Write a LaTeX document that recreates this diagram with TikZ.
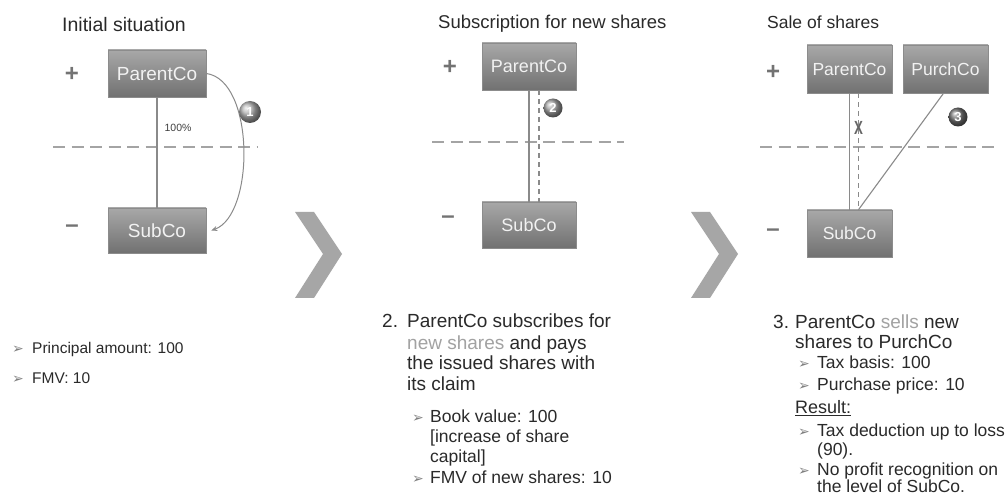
\documentclass[tikz,border=0pt]{standalone}
\usepackage{fontspec}
\setmainfont{Liberation Sans}
\newfontfamily\dvfont{DejaVu Sans}
\usetikzlibrary{arrows.meta,shadings}
\definecolor{txt}{HTML}{2A2A2A}
\definecolor{hl}{HTML}{A2A2A2}
\definecolor{boxtop}{HTML}{A8A8A8}
\definecolor{boxbot}{HTML}{717171}
\definecolor{boxtxt}{HTML}{F2F2F2}
\definecolor{linec}{HTML}{8A8A8A}
\definecolor{dashc}{HTML}{A4A4A4}
\definecolor{chev}{HTML}{A6A6A6}
\definecolor{signc}{HTML}{737373}
\newcommand{\fsz}[1]{\fontsize{#1}{#1}\selectfont}
\newcommand{\bul}{{\dvfont\fontsize{14}{14}\selectfont\color{black!50}➢}}
\begin{document}
\begin{tikzpicture}[x=1pt,y=-1pt,
  company/.style={draw=black!45, line width=0.6pt, top color=boxtop, bottom color=boxbot,
     text=boxtxt, inner sep=0pt, anchor=center},
  title/.style={anchor=base west, text=txt, inner sep=0pt},
  body/.style={anchor=base west, text=txt, inner sep=0pt},
  sgn/.style={text=signc, inner sep=0pt, font=\bfseries\fsz{24}},
  link/.style={draw=linec, line width=1.1pt},
  hdash/.style={draw=dashc, line width=1.8pt, dash pattern=on 12pt off 6.5pt},
  vdash/.style={draw=linec, line width=1.4pt, dash pattern=on 5pt off 4pt},
  num/.style={circle, shading=ball, text=white, inner sep=0pt, font=\bfseries\fsz{13}}
]
\useasboundingbox[fill=white] (0,0) rectangle (1007,494);

% ---------- titles
\node[title, font=\fsz{19.5}] (ti1) at (62,32) {Initial situation};
\node[title, font=\fsz{18.5}] (ti2) at (438,29) {Subscription for new shares};
\node[title, font=\fsz{17.5}] (ti3) at (767,29) {Sale of shares};

% ---------- panel 1
\node[company, minimum width=98pt, minimum height=47pt, font=\fsz{19}] (p1) at (157,73.5) {ParentCo};
\node[company, minimum width=98pt, minimum height=45pt, font=\fsz{19}] (s1) at (157,230.5) {SubCo};
\node[sgn] (plus1) at (72,74) {+};
\node[sgn] (minus1) at (72,229) {–};
\coordinate (d1a) at (53,147);
\coordinate (d1b) at (258,147);
\draw[hdash] (d1a) -- (d1b);
\draw[link] (p1.south) -- (s1.north);
\node[text=black!75, inner sep=0pt, font=\fsz{10.5}] (pct) at (178,128) {100\%};
\draw[draw=linec, line width=1pt, -{Stealth[length=6pt,width=5pt]}]
  (p1.east) .. controls (255,80) and (255,215) .. ([xshift=5pt]s1.east);
\node[num, ball color=black!30, minimum size=22pt] (n1) at (250,112) {1};

% ---------- chevrons
\fill[chev] (295,212) -- (314,212) -- (342,254) -- (314,298) -- (295,298) -- (323,254) -- cycle;
\fill[chev] (691,212) -- (710,212) -- (738,254) -- (710,298) -- (691,298) -- (719,254) -- cycle;

% ---------- panel 2
\node[company, minimum width=94pt, minimum height=47pt, font=\fsz{18}] (p2) at (529,66.5) {ParentCo};
\node[company, minimum width=94pt, minimum height=46pt, font=\fsz{18}] (s2) at (529,225) {SubCo};
\node[sgn] (plus2) at (450,67) {+};
\node[sgn] (minus2) at (448,220) {–};
\coordinate (d2a) at (432,142);
\coordinate (d2b) at (624,142);
\draw[hdash] (d2a) -- (d2b);
\draw[link] (p2.south) -- (s2.north);
\draw[vdash] ([xshift=10pt]p2.south) -- ([xshift=10pt]s2.north);
\node[num, ball color=black!35, minimum size=19pt] (n2) at (553,108) {2};

% ---------- panel 3
\node[company, minimum width=85pt, minimum height=48pt, font=\fsz{17.5}] (p3) at (849.5,69) {ParentCo};
\node[company, minimum width=85pt, minimum height=48pt, font=\fsz{17.5}] (q3) at (945.5,69) {PurchCo};
\node[company, minimum width=85pt, minimum height=47pt, font=\fsz{17.5}] (s3) at (849.5,233.5) {SubCo};
\node[sgn] (plus3) at (773,72) {+};
\node[sgn] (minus3) at (773,233) {–};
\coordinate (d3a) at (760,147);
\coordinate (d3b) at (996,147);
\draw[hdash] (d3a) -- (d3b);
\draw[link] (p3.south) -- (s3.north);
\draw[vdash] ([xshift=9pt]p3.south) -- ([xshift=9pt]s3.north);
\draw[link] ([xshift=-2pt]q3.south) -- ([xshift=9pt]s3.north);
\node[text=black!60, inner sep=0pt, font=\bfseries\fsz{19}] (x3) at (858.5,128) {\scalebox{0.7}[1]{X}};
\node[num, ball color=black!55, minimum size=19pt] (n3) at (958,117) {3};

% ---------- text panel 1
\node[body, font=\fsz{15.5}] (b1) at (12,353.5) {\makebox[20pt][l]{\bul}Principal amount: 100};
\node[body, font=\fsz{15.5}] (b2) at (12,383.5) {\makebox[20pt][l]{\bul}FMV: 10};

% ---------- text panel 2
\node[body, font=\fsz{19}] (t2a) at (382,328) {\makebox[25pt][l]{2.}ParentCo subscribes for};
\node[body, font=\fsz{19}] (t2b) at (407,349) {{\color{hl}new shares} and pays};
\node[body, font=\fsz{19}] (t2c) at (407,370) {the issued shares with};
\node[body, font=\fsz{19}] (t2d) at (407,391) {its claim};
\node[body, font=\fsz{17.5}] (t2e) at (412,422) {\makebox[18pt][l]{\bul}Book value: 100};
\node[body, font=\fsz{17.5}] (t2f) at (430,442) {[increase of share};
\node[body, font=\fsz{17.5}] (t2g) at (430,462) {capital]};
\node[body, font=\fsz{17.5}] (t2h) at (412,483) {\makebox[18pt][l]{\bul}FMV of new shares: 10};

% ---------- text panel 3
\node[body, font=\fsz{19}] (t3a) at (773,328.5) {\makebox[22pt][l]{3.}ParentCo {\color{hl}sells} new};
\node[body, font=\fsz{19}] (t3b) at (795,348.5) {shares to PurchCo};
\node[body, font=\fsz{17.5}] (t3c) at (798,368.5) {\makebox[19pt][l]{\bul}Tax basis: 100};
\node[body, font=\fsz{17.5}] (t3d) at (798,391) {\makebox[19pt][l]{\bul}Purchase price: 10};
\node[body, font=\fsz{18}] (t3e) at (795,413.5) {\underline{Result:}};
\node[body, font=\fsz{17.5}] (t3f) at (798,436) {\makebox[19pt][l]{\bul}Tax deduction up to loss};
\node[body, font=\fsz{17.5}] (t3g) at (817,455.5) {(90).};
\node[body, font=\fsz{17.5}] (t3h) at (798,475) {\makebox[19pt][l]{\bul}No profit recognition on};
\node[body, font=\fsz{17.5}] (t3i) at (817,492) {the level of SubCo.};
\end{tikzpicture}
\end{document}
